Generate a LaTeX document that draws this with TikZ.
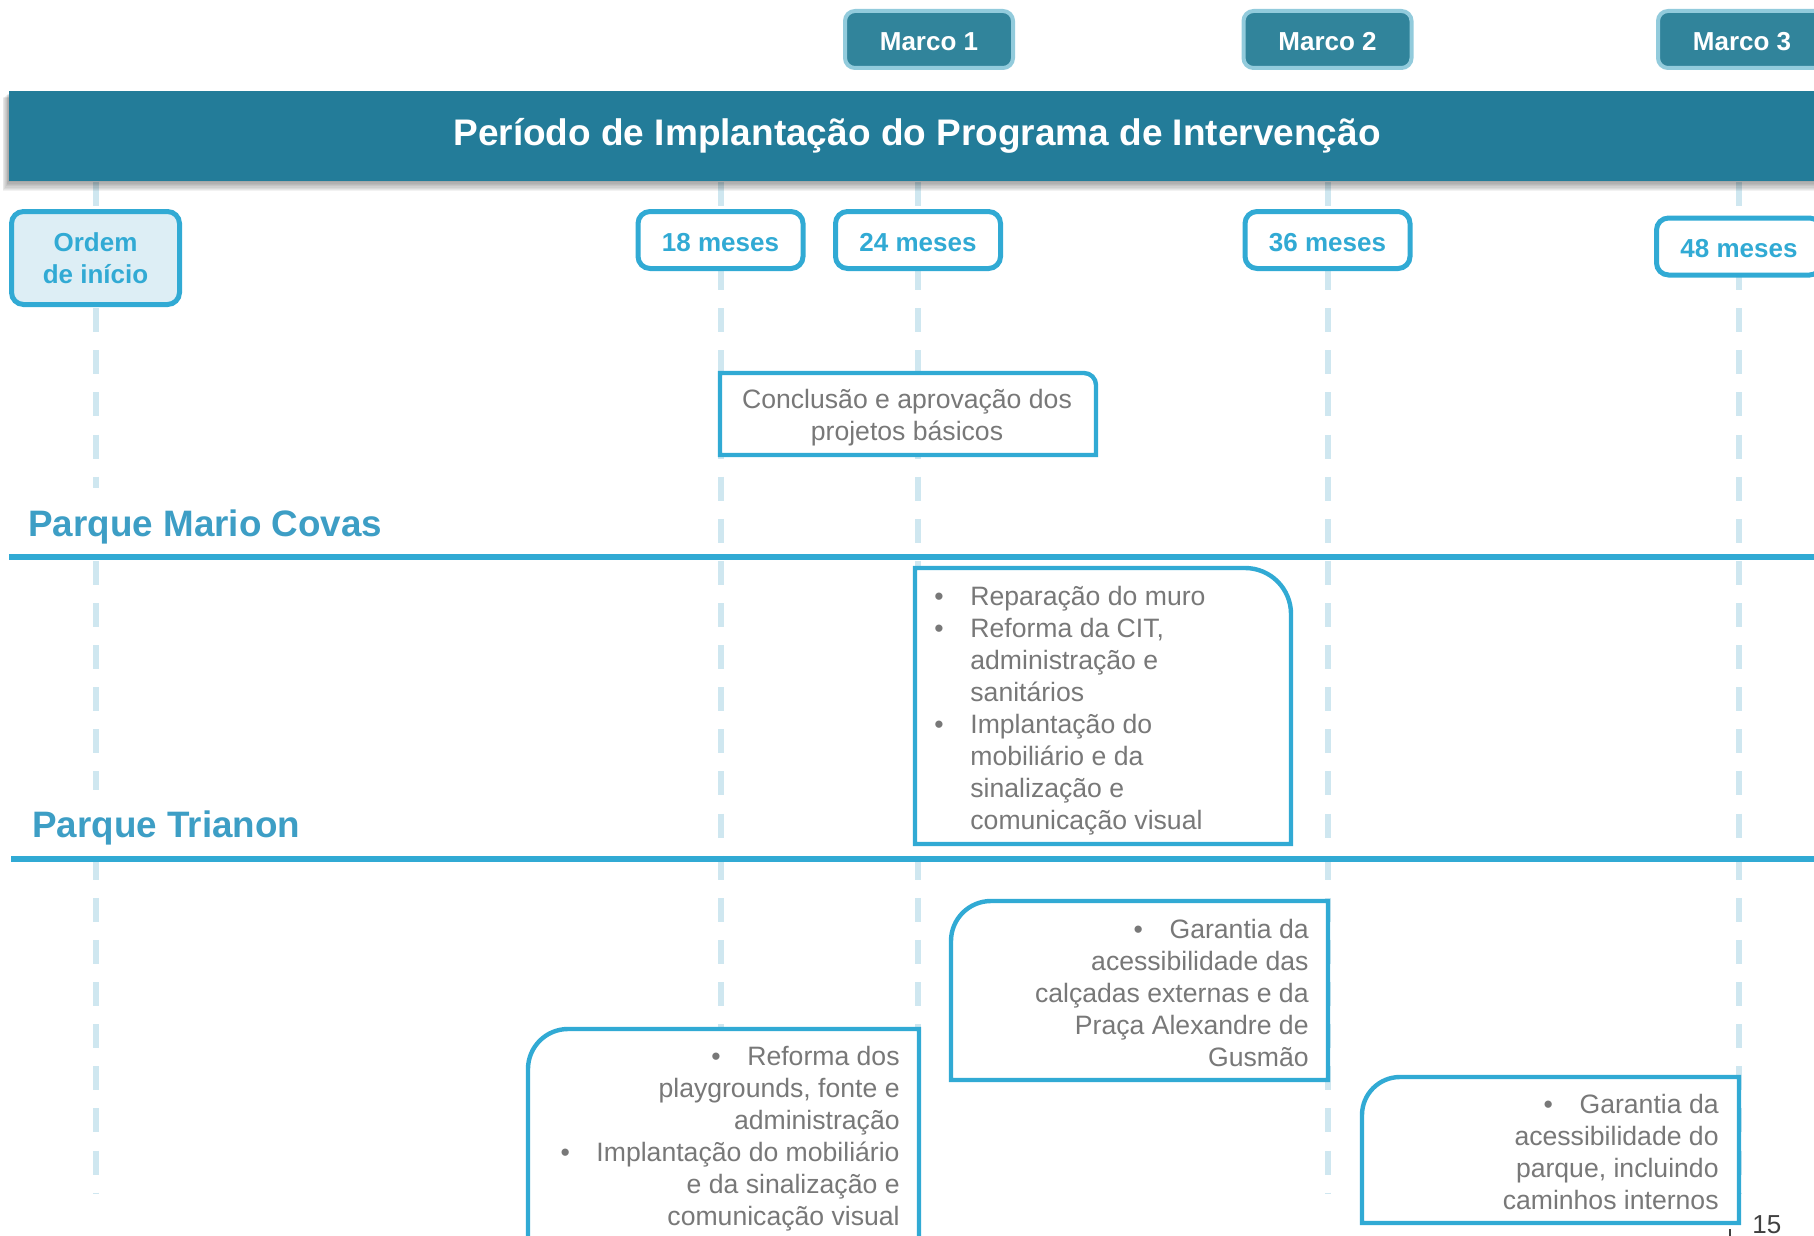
\documentclass[tikz,border=0pt]{standalone}
\usepackage{fontspec}
\setmainfont{Liberation Sans}
\definecolor{bandc}{RGB}{35,124,153}
\definecolor{marcof}{RGB}{49,132,155}
\definecolor{marcob}{RGB}{146,203,220}
\definecolor{bluec}{RGB}{49,170,212}
\definecolor{ordemf}{RGB}{221,238,245}
\definecolor{vlinec}{RGB}{207,231,240}
\definecolor{headc}{RGB}{61,158,197}
\definecolor{textc}{RGB}{120,120,120}
\definecolor{pagec}{RGB}{64,64,64}
\pgfdeclarelayer{bg}
\pgfsetlayers{bg,main}
\newcommand\bul{\makebox[18pt][l]{•}}
% box with rounded top-right corner: x1 y1 x2 y2 R
\newcommand\boxTR[5]{%
 \filldraw[cbox] (#1,#2) -- ({#3-#5},#2) .. controls ({#3-0.4477*#5},#2) and (#3,{#2+0.4477*#5}) .. (#3,{#2+#5}) -- (#3,#4) -- (#1,#4) -- cycle;}
% box with rounded top-left corner: x1 y1 x2 y2 R
\newcommand\boxTL[5]{%
 \filldraw[cbox] (#3,#2) -- (#3,#4) -- (#1,#4) -- (#1,{#2+#5}) .. controls (#1,{#2+0.4477*#5}) and ({#1+0.4477*#5},#2) .. ({#1+#5},#2) -- cycle;}
\tikzset{
 marco/.style={draw=marcob, line width=2pt, fill=marcof, rounded corners=5pt, minimum width=84pt, minimum height=28.5pt, inner sep=0pt, text=white, font=\fontsize{13}{16}\selectfont\bfseries, text height=11.3pt, text depth=0pt},
 datebox/.style={draw=bluec, line width=2.5pt, fill=white, rounded corners=6pt, minimum width=82.5pt, minimum height=28.5pt, inner sep=0pt, text=bluec, font=\fontsize{13}{16}\selectfont\bfseries},
 dtext/.style={text height=11.3pt, text depth=0pt},
 vline/.style={draw=vlinec, line width=3pt, dash pattern=on 12pt off 9.06pt},
 secline/.style={draw=bluec, line width=3pt},
 heading/.style={fill=white, text=headc, font=\fontsize{18.4}{22}\selectfont\bfseries, inner xsep=2pt, inner ysep=0pt, anchor=base west},
 cbox/.style={draw=bluec, line width=2.2pt, fill=white},
 body/.style={text=textc, font=\fontsize{13.3}{16}\selectfont, inner sep=0pt},
}
\begin{document}
\begin{tikzpicture}[x=0.5pt, y=-0.5pt]
\path[use as bounding box] (0,0) rectangle (1814,1236);
\clip (0,0) rectangle (1814,1236);

% soft shadow of the title band
\foreach \i in {1,...,8}{
  \fill[black, opacity=0.05] ({9-0.8*\i},{93+0.6*\i}) rectangle (1830,{181+1.3*\i});
}
% title band
\node[fill=bandc, minimum width=910.5pt, minimum height=45pt, anchor=north west, inner sep=0pt] (band) at (9,91) {};
\node[text=white, font=\fontsize{18.5}{22}\selectfont\bfseries, anchor=base, inner sep=0pt] (title) at (917,146) {Período de Implantação do Programa de Intervenção};

% milestones
\node[marco] (mk1) at (929,39.5) {Marco 1};
\node[marco] (mk2) at (1327.5,39.5) {Marco 2};
\node[marco] (mk3) at (1742,39.5) {Marco 3};

% date boxes
\node[datebox, fill=ordemf, minimum width=84pt, minimum height=46.5pt, align=center] (ordem) at (95.5,258) {Ordem\\de início};
\node[datebox, dtext] (m18) at (720.5,240) {18 meses};
\node[datebox, dtext] (m24) at (918,240) {24 meses};
\node[datebox, dtext] (m36) at (1327.5,240) {36 meses};
\node[datebox, dtext] (m48) at (1739,246.5) {48 meses};

% vertical guide lines
\coordinate (vend) at (0,1194);
\begin{pgfonlayer}{bg}
\foreach \n in {ordem,m18,m24,m36,m48}{
  \draw[vline] (\n |- band.south) -- (\n |- vend);
}
\end{pgfonlayer}

% section headings and lines
\node[heading, text height=24pt, text depth=5.5pt] (hmc) at (24,536) {Parque Mario Covas};
\node[heading, text height=23.5pt, text depth=10pt] (htr) at (28,837) {Parque Trianon};
\draw[secline] (9,557) -- (1814,557);
\draw[secline] (11,859) -- (1814,859);

% content boxes
\boxTR{720}{373}{1096}{455}{12}
\node[body, anchor=base] (ta) at (907,408) {\begin{tabular}[t]{@{}c@{}}Conclusão e aprovação dos\\projetos básicos\end{tabular}};

\boxTR{915}{568}{1291}{844}{46}
\node[body, anchor=base west] (tb) at (934,605) {\begin{tabular}[t]{@{}l@{}l@{}}\bul&Reparação do muro\\\bul&Reforma da CIT,\\&administração e\\&sanitários\\\bul&Implantação do\\&mobiliário e da\\&sinalização e\\&comunicação visual\end{tabular}};

\boxTL{951}{901}{1328}{1080}{40}
\node[body, anchor=base east] (tc) at (1309,938) {\begin{tabular}[t]{@{}r@{}}\bul Garantia da\\acessibilidade das\\calçadas externas e da\\Praça Alexandre de\\Gusmão\end{tabular}};

\boxTL{528}{1029}{919}{1270}{40}
\node[body, anchor=base east] (td) at (900,1065) {\begin{tabular}[t]{@{}r@{}}\bul Reforma dos\\playgrounds, fonte e\\administração\\\bul Implantação do mobiliário\\e da sinalização e\\comunicação visual\end{tabular}};

\boxTL{1362}{1077}{1739}{1223}{38}
\node[body, anchor=base east] (te) at (1719,1113) {\begin{tabular}[t]{@{}r@{}}\bul Garantia da\\acessibilidade do\\parque, incluindo\\caminhos internos\end{tabular}};

% page number
\node[text=pagec, font=\fontsize{13}{15}\selectfont, anchor=base west, inner sep=0pt] (pg) at (1752,1233) {15};
\draw[pagec, line width=0.7pt] (1730,1229) -- (1730,1240);
\end{tikzpicture}
\end{document}
